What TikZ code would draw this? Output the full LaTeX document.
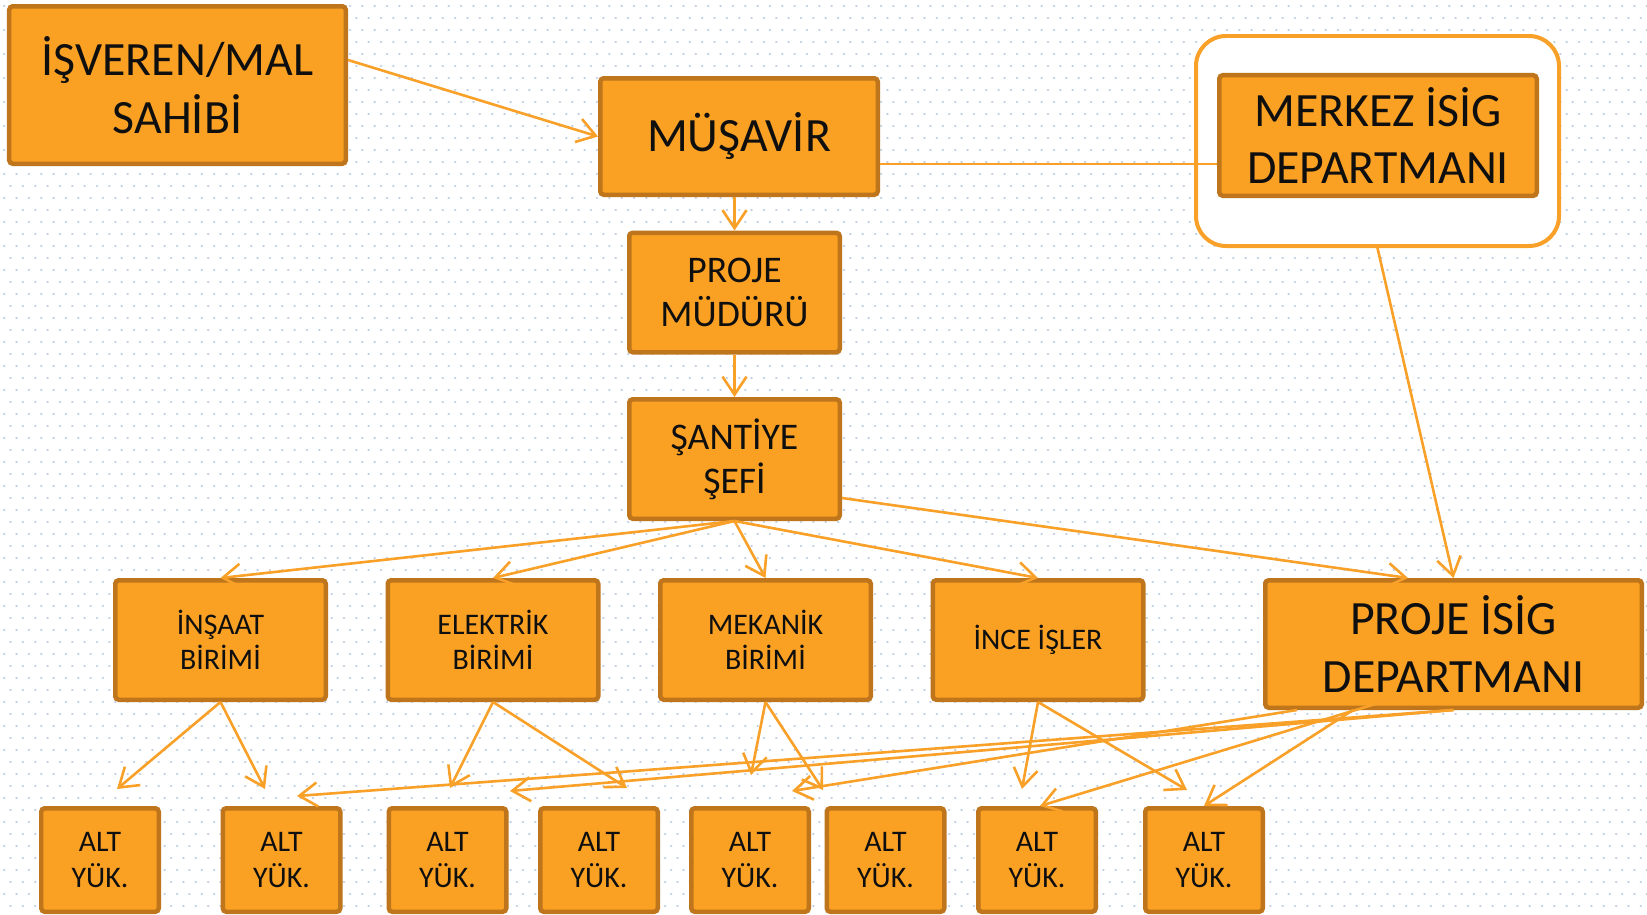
\documentclass[tikz,border=0pt]{standalone}
\usepackage{fontspec}
\setmainfont{Carlito}
\usetikzlibrary{positioning,arrows.meta,calc}

\definecolor{turuncu}{RGB}{250,161,36}
\definecolor{kenar}{RGB}{190,117,27}
\definecolor{hat}{RGB}{248,160,40}
\definecolor{yazi}{RGB}{15,15,15}
\definecolor{nokta}{RGB}{190,206,224}

\tikzset{
  kutu/.style={rectangle, draw=kenar, fill=turuncu, line width=0.045cm, rounded corners=1pt, align=center, text=yazi, inner sep=2pt},
  buyuk/.style={kutu, font=\fontsize{13.6}{16.5}\selectfont},
  orta/.style={kutu, minimum width=2.105cm, minimum height=1.195cm, font=\fontsize{10.7}{12.5}\selectfont},
  birim/.style={kutu, minimum width=2.105cm, minimum height=1.195cm, font=\fontsize{8.5}{9.9}\selectfont},
  altyuk/.style={kutu, minimum width=1.175cm, minimum height=1.035cm, font=\fontsize{8.5}{10.2}\selectfont},
  hatt/.style={draw=hat, line width=0.026cm},
  ok/.style={hatt, -{Straight Barb[length=0.18cm, width=0.24cm]}},
  nokt/.style={draw=nokta, line width=0.024cm, line cap=round, dash pattern=on 0.1pt off 0.12cm}
}

\begin{document}
\begin{tikzpicture}
%PICTURE SCOPE
\useasboundingbox (0,0) rectangle (16.47,-9.15);
\fill[white] (0,0) rectangle (16.47,-9.15);
%DOTTED BACKGROUND
\foreach \r [evaluate=\r as \ry using {-0.06-0.12*\r}, evaluate=\r as \ph using {1.7072*mod(\r,2)}] in {0,...,75}
  \draw[nokt, dash phase=\ph pt] (0.04,\ry) -- (16.47,\ry);

%TOP
\node (isv) at (1.775,-0.85) [buyuk, minimum width=3.365cm, minimum height=1.575cm] {İŞVEREN/MAL\\SAHİBİ};
\node (mus) at (7.39,-1.365) [buyuk, minimum width=2.775cm, minimum height=1.165cm] {MÜŞAVİR};
\node (merkezc) at (13.775,-1.41) [draw=hat, fill=white, line width=0.04cm, rounded corners=0.3cm, minimum width=3.63cm, minimum height=2.10cm] {};
\node (merkez) at (13.78,-1.355) [buyuk, minimum width=3.175cm, minimum height=1.205cm] {MERKEZ İSİG\\DEPARTMANI};
%
\node (pm) at (7.345,-2.925) [orta] {PROJE\\MÜDÜRÜ};
\node (sef) at (7.345,-4.59) [orta] {ŞANTİYE\\ŞEFİ};
%%UNITS
\node (ins) at (2.205,-6.40) [birim] {İNŞAAT\\BİRİMİ};
\node (elk) at (4.93,-6.40) [birim] {ELEKTRİK\\BİRİMİ};
\node (mek) at (7.655,-6.40) [birim] {MEKANİK\\BİRİMİ};
\node (ince) at (10.38,-6.40) [birim] {İNCE İŞLER};
\node (pisig) at (14.535,-6.44) [buyuk, minimum width=3.765cm, minimum height=1.275cm] {PROJE İSİG\\DEPARTMANI};
%%SUBCONTRACTORS
\node (alt1) at (1.00,-8.60) [altyuk] {ALT\\YÜK.};
\node (alt2) at (2.815,-8.60) [altyuk] {ALT\\YÜK.};
\node (alt3) at (4.475,-8.60) [altyuk] {ALT\\YÜK.};
\node (alt4) at (5.99,-8.60) [altyuk] {ALT\\YÜK.};
\node (alt5) at (7.50,-8.60) [altyuk] {ALT\\YÜK.};
\node (alt6) at (8.855,-8.60) [altyuk] {ALT\\YÜK.};
\node (alt7) at (10.37,-8.60) [altyuk] {ALT\\YÜK.};
\node (alt8) at (12.04,-8.60) [altyuk] {ALT\\YÜK.};
%ARROW ENDS ABOVE THE BOXES
\coordinate (t1) at (1.17,-7.89);
\coordinate (t2) at (2.65,-7.89);
\coordinate (t3) at (4.50,-7.88);
\coordinate (t4) at (6.27,-7.88);
\coordinate (t5) at (7.51,-7.75);
\coordinate (t6) at (8.23,-7.90);
\coordinate (t7) at (10.22,-7.89);
\coordinate (t8) at (11.87,-7.90);
\coordinate (p1) at (2.97,-7.96);
\coordinate (p2) at (5.10,-7.91);
\coordinate (p3) at (7.92,-7.91);

%%CONNECTIONS
\draw[ok] ([yshift=0.25cm]isv.east) -- (mus.west);
\coordinate (mline) at ([yshift=-0.275cm]mus.east);
\draw[hatt] (mline) -- (mline -| merkez.west);
\draw[ok] (mus.south -| pm.north) -- (pm.north);
\draw[ok] (pm.south) -- (sef.north);
%%SEF TO UNITS
\draw[ok] (sef.south) -- (ins.north);
\draw[ok] (sef.south) -- (elk.north);
\draw[ok] (sef.south) -- (mek.north);
\draw[ok] (sef.south) -- (ince.north);
\draw[ok] ([yshift=-0.39cm]sef.east) -- ([xshift=-0.455cm]pisig.north);
\draw[ok] (merkezc.south) -- (pisig.north);
%%UNITS TO SUBCONTRACTORS
\draw[ok] (ins.south) -- (t1);
\draw[ok] (ins.south) -- (t2);
\draw[ok] (elk.south) -- (t3);
\draw[ok] (elk.south) -- (t4);
\draw[ok] (mek.south) -- (t5);
\draw[ok] (mek.south) -- (t6);
\draw[ok] (ince.south) -- (t7);
\draw[ok] (ince.south) -- (t8);
%%PROJE ISIG TO SUBCONTRACTORS
\draw[ok] (pisig.south) -- (p1);
\draw[ok] (pisig.south) -- (p2);
\draw[ok] ([xshift=-1.565cm]pisig.south) -- (p3);
\draw[ok] ([xshift=-0.485cm, yshift=0.15cm]pisig.south) -- ([xshift=0.03cm]alt7.north);
\draw[ok] ([xshift=-1.005cm]pisig.south) -- (alt8.north);
\end{tikzpicture}
\end{document}
